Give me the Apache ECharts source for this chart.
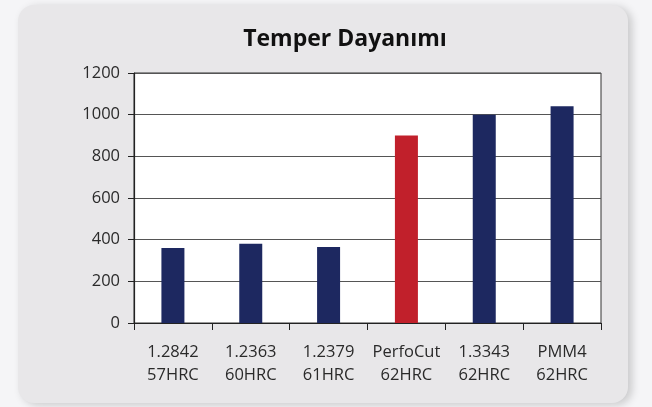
<!DOCTYPE html>
<html>
<head>
<meta charset="utf-8">
<script src="https://cdn.jsdelivr.net/npm/echarts@6/dist/echarts.min.js"></script>
<style>
  html, body { margin: 0; padding: 0; background: #f5f5f7; }
  #chart { width: 652px; height: 407px; }
</style>
</head>
<body>
<div id="chart"></div>
<script>
var categories = ['1.2842\n57HRC', '1.2363\n60HRC', '1.2379\n61HRC', 'PerfoCut\n62HRC', '1.3343\n62HRC', 'PMM4\n62HRC'];
var values = [360, 380, 365, 900, 1000, 1040];
var barColors = ['#1d2860', '#1d2860', '#1d2860', '#c1202b', '#1d2860', '#1d2860'];

var chart = echarts.init(document.getElementById('chart'));

chart.setOption({
  animation: false,
  backgroundColor: '#f5f5f7',
  graphic: [{
    type: 'rect',
    z: -10,
    shape: { x: 18, y: 5, width: 610, height: 398, r: 16 },
    style: {
      fill: '#e8e7e9',
      shadowBlur: 8,
      shadowOffsetX: 4,
      shadowOffsetY: 2,
      shadowColor: 'rgba(0,0,0,0.18)'
    }
  }],
  title: {
    text: 'Temper Dayanımı',
    left: 340,
    textAlign: 'center',
    top: 23,
    textStyle: {
      fontFamily: 'Open Sans',
      fontSize: 23,
      fontWeight: 'bold',
      color: '#111'
    }
  },
  grid: {
    left: 134,
    right: 51,
    top: 73,
    bottom: 84,
    show: true,
    backgroundColor: '#ffffff',
    borderWidth: 1,
    borderColor: '#333'
  },
  xAxis: {
    type: 'category',
    data: categories,
    axisLine: { lineStyle: { color: '#222', width: 1.2 } },
    axisTick: { show: true, alignWithLabel: false, length: 7, lineStyle: { color: '#222' } },
    axisLabel: {
      interval: 0,
      margin: 18,
      fontFamily: 'Open Sans',
      fontSize: 16.5,
      lineHeight: 23,
      color: '#2a2a2a'
    }
  },
  yAxis: {
    type: 'value',
    min: 0,
    max: 1200,
    interval: 200,
    axisLine: { show: true, lineStyle: { color: '#222', width: 1.2 } },
    axisTick: { show: true, length: 6, inside: false, lineStyle: { color: '#222' } },
    splitLine: { lineStyle: { color: '#555', width: 1.2 } },
    axisLabel: {
      margin: 14,
      fontFamily: 'Open Sans',
      fontSize: 16.5,
      color: '#2a2a2a',
      formatter: function (v) { return String(v); }
    }
  },
  series: [{
    type: 'bar',
    barWidth: 23,
    data: values.map(function (v, i) {
      return { value: v, itemStyle: { color: barColors[i] } };
    })
  }]
});
</script>
</body>
</html>
